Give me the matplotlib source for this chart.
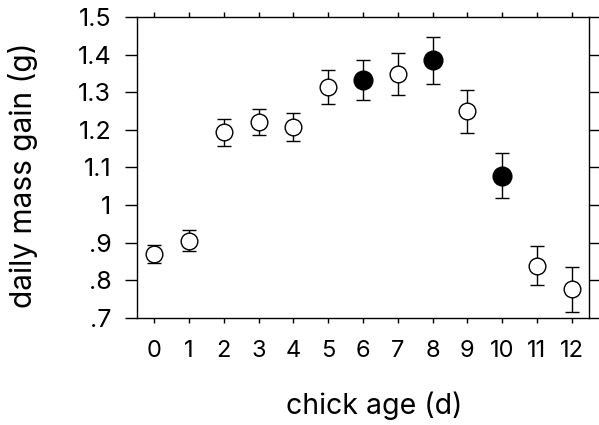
import numpy as np
import matplotlib.pyplot as plt

plt.rcParams['font.family'] = ['Inter', 'DejaVu Sans']

# chick age (days) and daily mass gain (g) with error bars
ages = [0, 1, 2, 3, 4, 5, 6, 7, 8, 9, 10, 11, 12]
gain = [0.870, 0.905, 1.194, 1.221, 1.208, 1.313, 1.333, 1.349, 1.385, 1.250, 1.078, 0.839, 0.776]
err = [0.025, 0.028, 0.036, 0.035, 0.037, 0.045, 0.053, 0.055, 0.062, 0.057, 0.060, 0.052, 0.060]
filled_ages = [6, 8, 10]

ytick_vals = [0.7, 0.8, 0.9, 1.0, 1.1, 1.2, 1.3, 1.4, 1.5]
ytick_labels = ['.7', '.8', '.9', '1', '1.1', '1.2', '1.3', '1.4', '1.5']

ages = np.array(ages)
gain = np.array(gain)
err = np.array(err)
is_filled = np.isin(ages, filled_ages)

fig = plt.figure(figsize=(5.99, 4.25), dpi=100)
ax = fig.add_axes([0.2287, 0.2518, 0.7546, 0.7082])

# error bars first, markers on top (white fill hides the bar inside the circle)
ax.errorbar(ages, gain, yerr=err, fmt='none', ecolor='black', elinewidth=1.0,
            capsize=4.7, capthick=1.0, zorder=2)
ax.plot(ages[~is_filled], gain[~is_filled], 'o', ms=12, mfc='white', mec='black',
        mew=1.0, zorder=3)
ax.plot(ages[is_filled], gain[is_filled], 'o', ms=13.5, mfc='black', mec='black',
        mew=1.0, zorder=3)

ax.set_xlim(-0.5, 12.5)
ax.set_ylim(0.7, 1.5)
ax.set_xticks(ages)
ax.set_xticklabels([str(a) for a in ages], fontsize=17)
ax.set_yticks(ytick_vals)
ax.set_yticklabels(ytick_labels, fontsize=18)

ax.tick_params(axis='both', direction='out', top=True, right=True, width=1.0)
ax.tick_params(axis='x', length=3.6, pad=12)
ax.tick_params(axis='y', length=9, pad=9.5)
for sp in ax.spines.values():
    sp.set_linewidth(1.0)

ax.set_xlabel('chick age (d)', fontsize=20.5, va='center')
ax.set_ylabel('daily mass gain (g)', fontsize=21.5, va='center')
ax.xaxis.set_label_coords(0.525, -0.292)
ax.yaxis.set_label_coords(-0.253, 0.475)

fig.savefig('out.png', dpi=100)
